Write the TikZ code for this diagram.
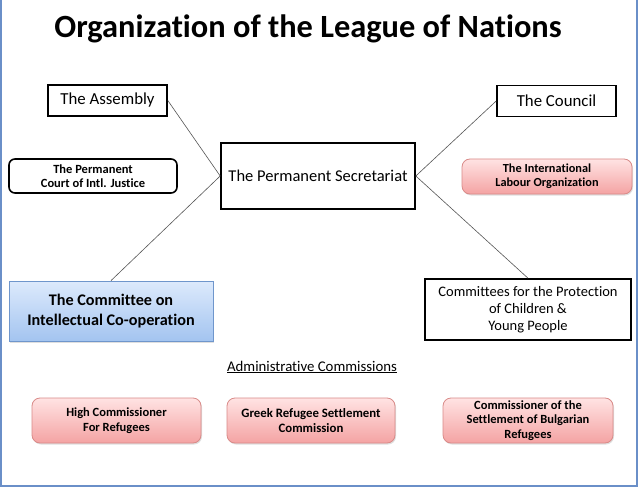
\documentclass[tikz,border=0pt]{standalone}
\usepackage{fontspec}
\setmainfont{Carlito}[Ligatures={NoCommon,NoDiscretionary,NoContextual}]
\usetikzlibrary{shadows}
\definecolor{frameblue}{HTML}{6A8FC8}
\definecolor{pinktop}{HTML}{FFE3E3}
\definecolor{pinkbot}{HTML}{F4A3A3}
\definecolor{pinkline}{HTML}{D98A88}
\definecolor{bluetop}{HTML}{DDEAFC}
\definecolor{bluebot}{HTML}{A3C4F0}
\definecolor{blueline}{HTML}{6F96CC}
\definecolor{linkgray}{HTML}{555555}
\tikzset{
  plainbox/.style={draw=black, line width=1.6pt, fill=white, inner sep=0pt, align=center, font=\fontsize{16.8}{19}\selectfont},
  roundbox/.style={draw=black, line width=1.6pt, rounded corners=6pt, fill=white, inner sep=0pt, align=center, font=\bfseries\fontsize{12.5}{14}\selectfont},
  pinkbox/.style={draw=pinkline, line width=0.8pt, rounded corners=8pt, top color=pinktop, bottom color=pinkbot, inner sep=0pt, align=center, font=\bfseries\fontsize{12.5}{15}\selectfont, drop shadow={shadow xshift=1pt, shadow yshift=-1.5pt, opacity=0.25}},
  bluebox/.style={draw=blueline, line width=0.8pt, top color=bluetop, bottom color=bluebot, inner sep=0pt, align=center, font=\bfseries\fontsize{16.2}{19.5}\selectfont, drop shadow={shadow xshift=1pt, shadow yshift=-1.5pt, opacity=0.25}},
  link/.style={draw=linkgray, line width=0.6pt},
}
\begin{document}
\begin{tikzpicture}[x=1pt,y=-1pt]
\useasboundingbox (0,0) rectangle (639,489);
\fill[white] (0,0) rectangle (639,489);
\draw[frameblue, line width=1.2pt] (1,0) -- (1,486) -- (637,486) -- (637,0);
\node (title) at (308,29) {\bfseries\fontsize{32.4}{36}\selectfont Organization of the League of Nations};
\node[plainbox, minimum width=119pt, minimum height=31pt] (assembly) at (107.5,100.5) {The Assembly};
\node[plainbox, minimum width=119pt, minimum height=31pt] (council) at (556.5,101) {The Council};
\node[roundbox, minimum width=168pt, minimum height=34pt] (court) at (93,176) {The Permanent\\Court of Intl. Justice};
\node[plainbox, font=\fontsize{16.5}{19}\selectfont, minimum width=194pt, minimum height=66pt] (secretariat) at (318,176) {The Permanent Secretariat};
\node[pinkbox, font=\bfseries\fontsize{12.3}{14}\selectfont, minimum width=170pt, minimum height=35pt] (ilo) at (547,176.5) {The International\\Labour Organization};
\node[bluebox, minimum width=204pt, minimum height=60pt] (ico) at (111,311) {The Committee on\\Intellectual Co-operation};
\node[plainbox, font=\fontsize{14.5}{17}\selectfont, minimum width=206pt, minimum height=61pt] (children) at (528,309.5) {Committees for the Protection\\of Children \&\\Young People};
\node[font=\fontsize{14.8}{17}\selectfont] (admin) at (312,367) {\underline{Administrative Commissions}};
\node[pinkbox, minimum width=169pt, minimum height=45pt] (high) at (116.5,420.5) {High Commissioner\\For Refugees};
\node[pinkbox, font=\bfseries\fontsize{12.8}{15}\selectfont, minimum width=168pt, minimum height=45pt] (greek) at (311,420.5) {Greek Refugee Settlement\\Commission};
\node[pinkbox, font=\bfseries\fontsize{12.5}{14.5}\selectfont, minimum width=170pt, minimum height=45pt] (bulg) at (528,420.5) {Commissioner of the\\Settlement of Bulgarian\\Refugees};
\draw[link] (assembly.east) -- (secretariat.west);
\draw[link] (council.west) -- (secretariat.east);
\draw[link] (secretariat.west) -- (ico.north);
\draw[link] (secretariat.east) -- (children.north);
\end{tikzpicture}
\end{document}
